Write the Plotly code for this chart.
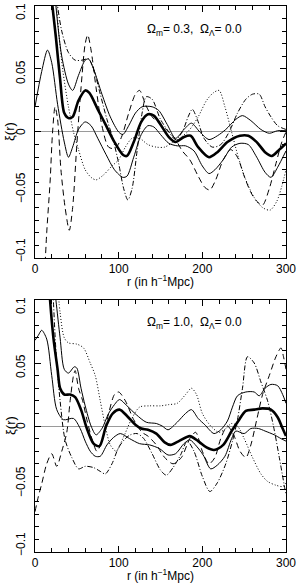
import plotly.graph_objects as go

# ---------------- Panel 1: Omega_m = 0.3 ----------------
p1_mean_r = [12, 20, 25, 30, 35, 40, 45, 52, 60, 65, 75, 85, 95, 105, 110, 118, 127, 135, 142, 150, 160, 168, 178, 186, 195, 208, 218, 230, 245, 255, 265, 275, 283, 292, 300]
p1_mean_v = [0.16, 0.105, 0.075, 0.042, 0.015, 0.011, 0.012, 0.025, 0.033, 0.031, 0.018, 0.005, -0.008, -0.018, -0.019, -0.008, 0.008, 0.014, 0.013, 0.006, -0.004, -0.008, -0.004, -0.003, -0.012, -0.02, -0.016, -0.008, -0.003, -0.003, -0.008, -0.016, -0.019, -0.014, -0.009]

p1_up_r = [18, 25, 32, 40, 45, 52, 60, 64, 70, 80, 90, 100, 105, 112, 120, 128, 140, 148, 158, 168, 178, 187, 197, 208, 218, 228, 240, 248, 258, 270, 280, 290, 300]
p1_up_v = [0.16, 0.1, 0.06, 0.038, 0.033, 0.045, 0.057, 0.058, 0.05, 0.03, 0.012, 0.0, -0.002, 0.005, 0.015, 0.02, 0.02, 0.017, 0.006, -0.005, 0.002, 0.007, 0.0, -0.006, -0.003, 0.002, 0.01, 0.013, 0.009, 0.002, -0.001, 0.001, 0.001]

p1_lo_r = [0, 8, 15, 20, 27, 35, 40, 45, 52, 60, 67, 75, 85, 95, 105, 110, 118, 127, 135, 142, 150, 160, 170, 180, 190, 200, 208, 215, 225, 235, 245, 255, 265, 275, 282, 290, 300]
p1_lo_v = [0.02, 0.048, 0.065, 0.055, 0.022, -0.008, -0.02, -0.012, 0.002, 0.008, 0.005, -0.005, -0.018, -0.03, -0.036, -0.035, -0.02, -0.002, 0.005, 0.004, -0.002, -0.009, -0.011, -0.011, -0.015, -0.027, -0.033, -0.03, -0.022, -0.012, -0.009, -0.01, -0.02, -0.032, -0.036, -0.028, -0.015]

p1_dash_r = [11, 14, 18, 21, 24, 27, 31, 36, 41, 45, 50, 55, 60, 63, 67, 73, 80, 88, 96, 104, 112, 120, 125, 132, 140, 150, 160, 168, 176, 185, 195, 203, 209, 216, 225, 234, 242, 250, 258, 265, 272, 280, 288, 295, 300]
p1_dash_v = [-0.12, -0.08, -0.04, 0.0, 0.02, 0.01, -0.03, -0.06, -0.078, -0.06, -0.01, 0.035, 0.07, 0.077, 0.065, 0.035, 0.005, -0.012, -0.013, -0.003, 0.015, 0.03, 0.033, 0.022, 0.012, 0.006, 0.0, -0.006, -0.015, -0.022, -0.035, -0.044, -0.046, -0.038, -0.022, -0.014, -0.02, -0.035, -0.048, -0.055, -0.058, -0.045, -0.025, -0.008, 0.0]

p1_dd_r = [18, 25, 32, 40, 48, 56, 64, 70, 78, 86, 93, 100, 106, 111, 116, 122, 128, 133, 140, 150, 160, 168, 176, 183, 188, 194, 202, 212, 222, 232, 242, 252, 260, 268, 275, 282, 290, 300]
p1_dd_v = [0.16, 0.11, 0.08, 0.063, 0.057, 0.057, 0.058, 0.05, 0.03, 0.01, -0.005, -0.025, -0.045, -0.054, -0.045, -0.015, 0.015, 0.028, 0.026, 0.01, 0.0, -0.006, 0.0, 0.012, 0.018, 0.01, -0.005, -0.012, -0.01, 0.0, 0.015, 0.026, 0.03, 0.03, 0.02, 0.012, 0.005, 0.002]

p1_dot_r = [22, 27, 33, 40, 46, 52, 60, 67, 73, 82, 92, 100, 108, 116, 125, 135, 145, 155, 165, 175, 185, 195, 205, 213, 220, 227, 235, 243, 252, 262, 272, 281, 289, 295, 300]
p1_dot_v = [0.16, 0.09, 0.05, 0.02, 0.0, -0.014, -0.03, -0.036, -0.038, -0.034, -0.027, -0.022, -0.012, -0.005, -0.005, -0.01, -0.012, -0.012, -0.008, -0.004, 0.002, 0.012, 0.025, 0.031, 0.033, 0.02, 0.0, -0.02, -0.038, -0.052, -0.06, -0.062, -0.055, -0.043, -0.03]

# ---------------- Panel 2: Omega_m = 1.0 ----------------
p2_mean_r = [15, 18, 22, 27, 30, 35, 42, 48, 55, 62, 70, 77, 85, 93, 101, 110, 120, 127, 135, 145, 155, 162, 172, 185, 195, 205, 214, 225, 235, 243, 252, 262, 272, 282, 290, 296, 300]
p2_mean_v = [0.13, 0.1, 0.07, 0.045, 0.03, 0.025, 0.025, 0.023, 0.013, -0.002, -0.014, -0.016, 0.0, 0.01, 0.013, 0.008, 0.001, -0.002, -0.003, -0.006, -0.013, -0.015, -0.012, -0.008, -0.012, -0.017, -0.019, -0.015, -0.004, 0.004, 0.012, 0.013, 0.014, 0.013, 0.007, -0.002, -0.008]

p2_up_r = [20, 25, 30, 35, 40, 47, 50, 55, 60, 67, 73, 80, 88, 95, 101, 110, 121, 133, 145, 152, 159, 170, 180, 187, 195, 203, 214, 222, 230, 236, 242, 252, 262, 268, 275, 282, 290, 296, 300]
p2_up_v = [0.13, 0.1, 0.07, 0.045, 0.042, 0.047, 0.046, 0.03, 0.016, 0.0, -0.007, -0.002, 0.01, 0.017, 0.021, 0.016, 0.009, 0.003, 0.002, 0.0, -0.003, 0.003, 0.01, 0.013, 0.006, 0.001, -0.006, -0.003, 0.004, 0.015, 0.024, 0.027, 0.027, 0.024, 0.03, 0.033, 0.032, 0.025, 0.018]

p2_lo_r = [0, 4, 8, 14, 20, 26, 34, 46, 54, 60, 66, 72, 78, 86, 94, 102, 113, 125, 137, 149, 159, 168, 178, 185, 193, 201, 210, 218, 227, 235, 240, 250, 258, 267, 275, 286, 294, 300]
p2_lo_v = [0.068, 0.072, 0.076, 0.069, 0.04, 0.013, 0.005, 0.006, -0.002, -0.012, -0.02, -0.024, -0.024, -0.015, -0.009, -0.006, -0.01, -0.014, -0.015, -0.018, -0.023, -0.022, -0.014, -0.011, -0.016, -0.023, -0.034, -0.031, -0.024, -0.01, -0.004, -0.006, -0.002, -0.002, -0.004, -0.007, -0.01, -0.012]

p2_dash_r = [0, 4, 8, 14, 20, 26, 32, 38, 42, 46, 48, 52, 57, 62, 68, 74, 80, 88, 95, 100, 108, 118, 128, 135, 145, 155, 165, 175, 185, 192, 200, 208, 215, 222, 230, 238, 245, 252, 258, 265, 272, 280, 288, 294, 297, 300]
p2_dash_v = [-0.068, -0.056, -0.046, -0.03, -0.022, -0.032, -0.02, -0.005, 0.02, 0.04, 0.044, 0.03, 0.02, 0.005, -0.01, -0.02, -0.012, 0.01, 0.025, 0.027, 0.02, 0.005, -0.005, -0.008, -0.015, -0.025, -0.03, -0.025, -0.01, -0.005, -0.02, -0.03, -0.025, -0.01, 0.0, -0.008, -0.02, -0.025, -0.015, 0.005, 0.025, 0.04, 0.055, 0.062, 0.055, 0.045]

p2_dd_r = [20, 25, 30, 36, 44, 52, 60, 70, 78, 84, 92, 100, 108, 114, 122, 130, 140, 150, 157, 165, 174, 182, 190, 200, 209, 218, 228, 236, 242, 248, 254, 262, 270, 278, 285, 292, 300]
p2_dd_v = [0.13, 0.06, 0.02, -0.011, -0.025, -0.034, -0.032, -0.033, -0.036, -0.038, -0.03, -0.017, -0.01, -0.007, -0.006, -0.01, -0.022, -0.035, -0.039, -0.033, -0.023, -0.012, -0.02, -0.04, -0.052, -0.045, -0.03, -0.012, 0.005, 0.03, 0.055, 0.05, 0.035, 0.02, 0.0, -0.025, -0.055]

p2_dot_r = [25, 30, 35, 40, 50, 58, 66, 72, 78, 84, 90, 97, 105, 115, 125, 137, 150, 160, 170, 180, 187, 193, 200, 210, 220, 228, 235, 242, 250, 260, 270, 278, 288, 296, 300]
p2_dot_v = [0.13, 0.09, 0.07, 0.066, 0.065, 0.062, 0.05, 0.04, 0.02, 0.0, -0.015, -0.02, -0.01, 0.005, 0.015, 0.016, 0.016, 0.017, 0.018, 0.025, 0.03, 0.025, 0.01, 0.0, -0.005, -0.002, 0.002, 0.0, -0.01, -0.025, -0.038, -0.044, -0.047, -0.048, -0.045]

panel_labels = ["Ω<sub>m</sub>= 0.3,  Ω<sub>Λ</sub>= 0.0", "Ω<sub>m</sub>= 1.0,  Ω<sub>Λ</sub>= 0.0"]
x_tickvals = [0, 100, 200, 300]
y_tickvals = [0.1, 0.05, 0, -0.05, -0.1]
y_ticktext = ["0.1", "0.05", "0", "−0.05", "−0.1"]
y_label_nudge = [-6, -3, 0, 7, 8]   # keeps end labels inside the figure, as in the original

FONT = "Liberation Sans, Arial, sans-serif"

fig = go.Figure()

panels = [
    [(p1_dash_r, p1_dash_v, "6px,4px", 1.0), (p1_dd_r, p1_dd_v, "5px,2px,1px,2px", 1.0),
     (p1_dot_r, p1_dot_v, "1px,2px", 1.0), (p1_up_r, p1_up_v, "solid", 1.0),
     (p1_lo_r, p1_lo_v, "solid", 1.0), (p1_mean_r, p1_mean_v, "solid", 2.6)],
    [(p2_dash_r, p2_dash_v, "6px,4px", 1.0), (p2_dd_r, p2_dd_v, "5px,2px,1px,2px", 1.0),
     (p2_dot_r, p2_dot_v, "1px,2px", 1.0), (p2_up_r, p2_up_v, "solid", 1.0),
     (p2_lo_r, p2_lo_v, "solid", 1.0), (p2_mean_r, p2_mean_v, "solid", 2.6)],
]

for i, curves in enumerate(panels):
    xa = "x" if i == 0 else "x2"
    ya = "y" if i == 0 else "y2"
    for r, v, dash, w in curves:
        fig.add_trace(go.Scatter(x=r, y=v, mode="lines", xaxis=xa, yaxis=ya,
                                 line=dict(color="black", width=w, dash=dash, shape="spline", smoothing=0.8),
                                 showlegend=False, hoverinfo="skip"))

axis_common = dict(
    range=[0, 300], showline=True, linecolor="black", linewidth=1, mirror="allticks",
    ticks="inside", ticklen=6, tickcolor="black", tickwidth=1, automargin=False,
    tickvals=x_tickvals, showgrid=False, zeroline=False,
    tickfont=dict(family=FONT, size=12, color="black"),
    minor=dict(dtick=20, ticks="inside", ticklen=4, tickcolor="black", showgrid=False),
)
yaxis_common = dict(
    range=[-0.1, 0.1], showline=True, linecolor="black", linewidth=1, mirror="allticks",
    ticks="inside", ticklen=6, tickcolor="black", tickwidth=1, automargin=False,
    tickvals=y_tickvals, showticklabels=False, showgrid=False,
    zeroline=True, zerolinecolor="#9a9a9a", zerolinewidth=1,
    minor=dict(dtick=0.01, tick0=0, ticks="inside", ticklen=4, tickcolor="black", showgrid=False),
)

fig.update_layout(
    width=298, height=585, paper_bgcolor="white", plot_bgcolor="white",
    margin=dict(l=35, r=12, t=6, b=33),
    xaxis=dict(**axis_common, domain=[0, 1], anchor="y"),
    yaxis=dict(**yaxis_common, domain=[0.5385, 1], anchor="x"),
    xaxis2=dict(**axis_common, domain=[0, 1], anchor="y2"),
    yaxis2=dict(**yaxis_common, domain=[0, 0.4615], anchor="x2"),
)

annots = []
for i, yt in enumerate([0.081, 0.082]):
    xr = "x" if i == 0 else "x2"
    yr = "y" if i == 0 else "y2"
    annots.append(dict(text=panel_labels[i], x=131, y=yt, xref=xr, yref=yr, xanchor="left", yanchor="middle",
                       showarrow=False, font=dict(family=FONT, size=12, color="black")))
    annots.append(dict(text="r (in h<sup>−1</sup>Mpc)", x=150, xref=xr, y=-0.1, yref=yr,
                       yshift=-23, yanchor="middle", xanchor="center", showarrow=False,
                       font=dict(family=FONT, size=12, color="black")))
    annots.append(dict(text="ξ(r)", x=0, xref=xr, y=0, yref=yr, xshift=-25, textangle=-90,
                       xanchor="center", yanchor="middle", showarrow=False,
                       font=dict(family=FONT, size=13, color="black")))
    for val, txt, nud in zip(y_tickvals, y_ticktext, y_label_nudge):
        annots.append(dict(text=txt, x=0, xref=xr, y=val, yref=yr, xshift=-14, yshift=nud,
                           textangle=-90, xanchor="center", yanchor="middle", showarrow=False,
                           font=dict(family=FONT, size=12, color="black")))
fig.update_layout(annotations=annots)

fig.write_html("out.html", config={"displayModeBar": False},
               post_script="document.body.style.margin='0';document.body.style.padding='0';document.body.style.overflow='hidden';")
